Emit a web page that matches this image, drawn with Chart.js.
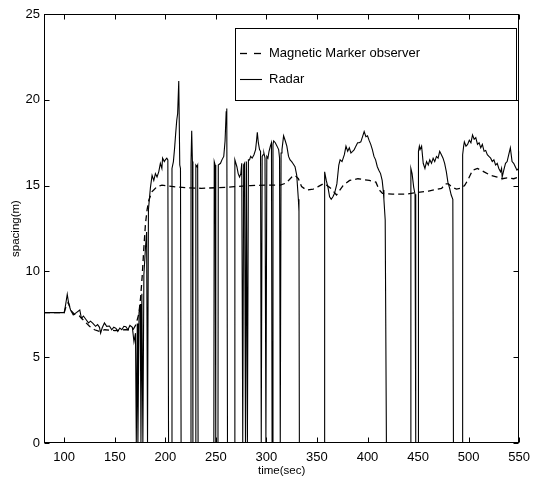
<!DOCTYPE html>
<html>
<head>
<meta charset="utf-8">
<script src="https://cdn.jsdelivr.net/npm/chart.js@4.4.1/dist/chart.umd.min.js"></script>
<style>
  html, body { margin: 0; padding: 0; background: #fff; }
</style>
</head>
<body>
<canvas id="grafic" width="537" height="485"></canvas>
<script>
// axe
const xTicks = [100, 150, 200, 250, 300, 350, 400, 450, 500, 550];
const yTicks = [0, 5, 10, 15, 20, 25];

// Radar (linie continua) - timp (s) si distanta (m), 0 = pierdere semnal
const radarTime = [
  80, 100, 101.5, 103, 104.5, 106.3, 108.9, 112, 115.4, 117,
  119, 121.9, 124, 126, 128.4, 131, 133, 134.9, 136, 137.5,
  139.8, 142, 144.7, 147, 149, 151.2, 153, 155, 157, 159,
  161, 163, 165, 167.4, 169, 170.5,
  171.3, 172.3, 172.9, 174, 175.2, 175.9, 176.8, 177.8, 178.8, 180.4,
  181.5, 182.4, 183.3, 185.3, 186.9, 188.6, 190.2, 191.8, 193.5, 195.1,
  196.6, 197.3, 199, 200, 201.5, 202.5, 203.2,
  206.2, 206.6, 208, 209.2, 210.2, 211.3, 212.2, 213.3, 214.3, 215.0, 215.6,
  225.1, 225.4, 226.1, 226.8, 227.3,
  229.9, 230.2, 231.3, 232.0, 232.4,
  248.0, 248.4, 249.3, 249.9,
  252.1, 252.4, 254.6, 256, 257.8, 259.1, 260.2, 260.8, 261.5,
  268.5, 268.8, 270.8, 272.1, 273.4, 274.7, 275.6, 276.6, 277.5, 278.4,
  279.3, 280.2, 281.2, 282.2, 283.3, 284.4, 285.9, 287.7, 289.3, 290.2,
  291, 292, 293.2, 294.2, 294.9, 295.8, 296.7, 297.5, 298.6, 299.5,
  300.4, 301.5, 302.6, 303.9, 305, 305.6, 306.5, 307.2, 308.8, 310.5,
  312.1, 313, 313.7, 314.5, 315.4, 317, 318.7, 320.2, 321.9, 323.4,
  325, 326.1, 328.3, 330, 331.6, 332.2, 332.6,
  357.3, 357.6, 359.2, 360.9, 362.5, 364.1, 365.8, 367.4, 369.7, 371.6,
  372.9, 374.8, 377.1, 378.7, 380.4, 382, 383.6, 385.3, 386.9, 388.5,
  390.2, 391.8, 393.4, 395.1, 396.7, 398.4, 400, 401.5, 403.2, 404.8,
  406.4, 408, 409.7, 411.2, 412.9, 414.5, 415.5, 416.2, 417.5, 418.7,
  442.6, 442.9, 444.1, 445.7, 447, 447.7,
  450.1, 450.4, 451.3, 452, 453.5, 455.1, 456.8, 458.4, 460.1, 461.6,
  463.3, 464.9, 466.5, 468.2, 469.8, 471.4, 473.1, 474.7, 476.3, 478,
  479.5, 481.2, 482.8, 484.4, 485,
  493.8, 494.1, 495.1, 495.8, 497.4, 499, 500.7, 502.3, 503.9, 505.5,
  507.1, 508.8, 510.4, 512, 513.6, 515.3, 516.9, 518.5, 520.1, 521.8,
  523.4, 525, 526.7, 528.3, 529.9, 531.6, 532.6, 533.2, 534.8, 536.5,
  538.1, 539.7, 541.3, 543, 544.6, 546.2, 547.8, 549.5, 550
];
const radarSpacing = [
  7.6, 7.6, 8.1, 8.67, 8.1, 7.75, 7.46, 7.6, 7.75, 7.27,
  7.4, 7.17, 7.0, 7.1, 6.97, 6.8, 6.9, 6.74, 6.4, 6.7,
  7.0, 6.8, 6.82, 6.6, 6.75, 6.68, 6.5, 6.7, 6.6, 6.8,
  6.78, 6.6, 6.85, 6.74, 5.9, 6.4,
  0, 6.97, 0, 7.6, 8.1, 0, 8.7, 0, 9.8, 11.4,
  12.3, 0, 13.6, 14.9, 15.6, 15.3, 15.7, 15.5, 15.8, 16.3,
  16.0, 16.6, 16.4, 16.5, 16.6, 16.5, 0,
  0, 16.0, 16.4, 17.2, 18.0, 18.8, 19.2, 21.1, 16.2, 16.0, 0,
  0, 16.3, 18.2, 16.4, 0,
  0, 16.2, 16.1, 16.2, 0,
  0, 16.4, 16.2, 0,
  0, 16.2, 16.3, 16.5, 16.7, 17.6, 19.3, 19.5, 0,
  0, 16.5, 16.1, 15.7, 15.5, 15.7, 16.3, 0, 16.2, 16.3,
  0, 16.4, 0, 16.5, 16.5, 16.7, 16.6, 16.8, 17.1, 17.6,
  18.1, 17.5, 17.1, 17.0, 0, 16.7, 16.8, 16.9, 16.6, 0,
  16.7, 16.6, 17.0, 17.3, 17.5, 0, 17.4, 17.6, 17.5, 17.3,
  17.1, 16.6, 0, 16.9, 17.1, 17.9, 17.6, 17.3, 16.7, 16.5,
  16.4, 16.3, 16.1, 15.6, 14.2, 13.5, 0,
  0, 15.8, 15.3, 14.9, 14.35, 14.2, 14.35, 14.55, 15.1, 16.2,
  16.5, 16.4, 16.8, 17.3, 17.0, 17.2, 16.9, 17.0, 17.1, 17.3,
  17.5, 17.5, 17.55, 17.85, 18.15, 17.85, 17.9, 17.65, 17.4, 17.1,
  16.7, 16.5, 16.1, 15.9, 15.7, 15.3, 14.75, 14.2, 13.0, 0,
  0, 16.0, 15.7, 14.9, 14.5, 0,
  0, 17.0, 17.3, 17.1, 17.3, 16.3, 16.0, 16.4, 16.2, 16.5,
  16.3, 16.6, 16.4, 16.7, 16.6, 17.0, 16.8, 16.6, 16.3, 15.8,
  15.2, 14.85, 14.45, 14.2, 0,
  0, 16.8, 17.3, 17.55, 17.3, 17.4, 17.65, 17.5, 17.95, 17.7,
  17.8, 17.4, 17.5, 17.2, 17.4, 17.0, 17.05, 16.8, 16.7, 16.6,
  16.4, 16.5, 16.2, 16.3, 16.0, 15.8, 16.0, 15.5, 15.9, 16.3,
  16.4, 16.8, 17.2, 16.4, 16.3, 16.1, 15.9, 16.0, 17.0
];

// Magnetic Marker observer (linie intrerupta)
const observerTime = [
  80, 100, 102, 104, 107, 110, 115, 120, 125, 130,
  135, 140, 150, 160, 168, 171, 173.9, 175.6, 177.1, 178.8,
  180.4, 182, 183.7, 186.9, 188.5, 191.8, 196.7, 203.2, 210, 219.5,
  235.7, 252, 261.7, 268.2, 284.4, 300.7, 313.7, 318.6, 321.9, 325.1,
  328.3, 331.6, 334.8, 339.7, 346.3, 351.2, 356, 358, 364.4, 369.3,
  375.8, 382.3, 390.5, 401.8, 408.3, 411.6, 414.8, 424.6, 437.5, 447.3,
  460.4, 473.3, 477, 480, 484, 488, 492.6, 496, 499, 501.5,
  504, 508.8, 512, 515.3, 521.8, 528.3, 533.2, 538.1, 544.6, 550
];
const observerSpacing = [
  7.6, 7.6, 8.0, 8.2, 7.7, 7.5, 7.4, 7.1, 6.8, 6.6,
  6.5, 6.6, 6.55, 6.6, 6.6, 6.9, 7.56, 8.5, 9.7, 11.4,
  12.8, 13.6, 14.15, 14.65, 14.74, 14.94, 15.03, 14.98, 14.93, 14.88,
  14.84, 14.88, 14.9, 14.94, 15.0, 15.03, 15.03, 15.13, 15.3, 15.5,
  15.6, 15.4, 14.94, 14.74, 14.8, 14.94, 15.1, 15.1, 14.8, 14.45,
  15.0, 15.3, 15.4, 15.3, 15.2, 14.75, 14.55, 14.5, 14.5, 14.58,
  14.68, 14.84, 15.1, 15.1, 14.9, 14.8, 14.85, 15.0, 15.3, 15.6,
  15.9, 16.0, 15.9, 15.8, 15.6, 15.5, 15.4, 15.45, 15.4, 15.5
];

const FONT = '"Liberation Sans", Arial, Helvetica, sans-serif';

const puncte = (t, v) => t.map((x, i) => ({ x, y: v[i] }));

// cadru cu gradatii spre interior + legenda in colt (stil MATLAB)
const cadruSiLegenda = {
  id: 'cadruSiLegenda',
  afterDraw(chart) {
    const { ctx, chartArea: a, scales: { x, y } } = chart;
    const px = (v) => Math.round(v) + 0.5;
    const L = px(a.left), R = px(a.right - 1), T = px(a.top), B = px(a.bottom - 1);
    const tl = 5;

    ctx.save();
    ctx.strokeStyle = '#000';
    ctx.lineWidth = 1;
    ctx.strokeRect(L, T, R - L, B - T);

    ctx.beginPath();
    x.ticks.forEach((t) => {
      const p = px(x.getPixelForValue(t.value));
      ctx.moveTo(p, B); ctx.lineTo(p, B - tl);
      ctx.moveTo(p, T); ctx.lineTo(p, T + tl);
    });
    y.ticks.forEach((t) => {
      const p = px(y.getPixelForValue(t.value));
      ctx.moveTo(L, p); ctx.lineTo(L + tl, p);
      ctx.moveTo(R, p); ctx.lineTo(R - tl, p);
    });
    ctx.stroke();

    // legenda
    const bx = 235.5, by = 28.5, bw = 281, bh = 72;
    ctx.fillStyle = '#fff';
    ctx.fillRect(bx, by, bw, bh);
    ctx.strokeRect(bx, by, bw, bh);

    const randuri = [
      { ds: chart.data.datasets[0], y: 53.5, dash: [7, 7] },
      { ds: chart.data.datasets[1], y: 79.5, dash: [] }
    ];
    ctx.font = '13px ' + FONT;
    ctx.textBaseline = 'middle';
    ctx.fillStyle = '#000';
    randuri.forEach((r) => {
      ctx.beginPath();
      ctx.setLineDash(r.dash);
      ctx.lineWidth = r.ds.borderWidth;
      ctx.moveTo(240, r.y);
      ctx.lineTo(262, r.y);
      ctx.stroke();
      ctx.setLineDash([]);
      ctx.fillText(r.ds.label, 269, r.y);
    });
    ctx.restore();
  }
};

new Chart(document.getElementById('grafic'), {
  type: 'line',
  data: {
    datasets: [
      {
        label: 'Magnetic Marker observer',
        data: puncte(observerTime, observerSpacing),
        borderColor: '#000',
        borderWidth: 1.3,
        borderDash: [6, 4],
        pointRadius: 0,
        tension: 0,
        fill: false
      },
      {
        label: 'Radar',
        data: puncte(radarTime, radarSpacing),
        borderColor: '#000',
        borderWidth: 1.1,
        pointRadius: 0,
        tension: 0,
        fill: false
      }
    ]
  },
  options: {
    responsive: false,
    animation: false,
    parsing: false,
    layout: { padding: { top: 14, right: 11, bottom: 0, left: 0 } },
    plugins: {
      legend: { display: false },
      tooltip: { enabled: false }
    },
    scales: {
      x: {
        type: 'linear',
        min: 80,
        max: 550,
        afterBuildTicks: (s) => { s.ticks = xTicks.map((v) => ({ value: v })); },
        afterFit: (s) => { s.height = 42; },
        grid: { display: false, drawTicks: false },
        border: { display: false },
        ticks: { color: '#000', padding: 7, maxRotation: 0, font: { family: FONT, size: 13 } },
        title: {
          display: true,
          text: 'time(sec)',
          color: '#000',
          font: { family: FONT, size: 11.5 },
          padding: { top: 0, bottom: 7 }
        }
      },
      y: {
        type: 'linear',
        min: 0,
        max: 25,
        afterBuildTicks: (s) => { s.ticks = yTicks.map((v) => ({ value: v })); },
        afterFit: (s) => { s.width = 44; },
        grid: { display: false, drawTicks: false },
        border: { display: false },
        ticks: { color: '#000', padding: 4, font: { family: FONT, size: 13 } },
        title: {
          display: true,
          text: 'spacing(m)',
          color: '#000',
          font: { family: FONT, size: 11.5 },
          padding: { top: 9, bottom: 0 }
        }
      }
    }
  },
  plugins: [cadruSiLegenda]
});
</script>
</body>
</html>
